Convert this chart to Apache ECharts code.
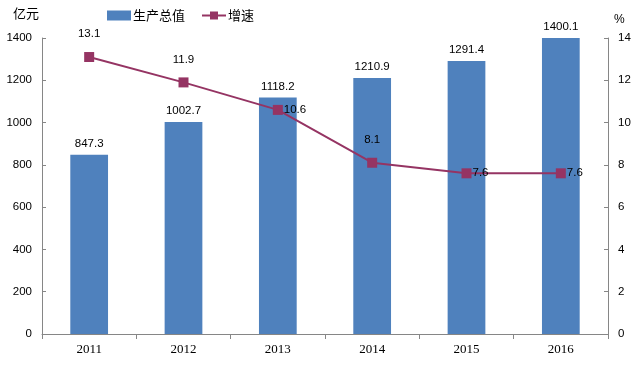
<!DOCTYPE html>
<html><head><meta charset="utf-8">
<script src="https://cdn.jsdelivr.net/npm/echarts@6/dist/echarts.min.js"></script>
<style>html,body{margin:0;padding:0;background:#fff}#c{width:644px;height:371px}</style>
</head><body><div id="c"></div>
<script>
var categories = ['2011','2012','2013','2014','2015','2016'];
var gdpValues = [847.3, 1002.7, 1118.2, 1210.9, 1291.4, 1400.1];
var growthValues = [13.1, 11.9, 10.6, 8.1, 7.6, 7.6];
var growthLabelPos = ['top','top','right','top','right','right'];
var leftTicks = {min:0, max:1400, interval:200};
var rightTicks = {min:0, max:14, interval:2};

var chart = echarts.init(document.getElementById('c'));
var serifFont = '"Liberation Serif", "Times New Roman", serif';
var sansFont = '"Liberation Sans", Arial, sans-serif';
var axisCol = '#868686';
chart.setOption({
  animation:false,
  backgroundColor:'#fff',
  grid:{left:42, right:36, top:38, bottom:37},
  legend:{
    top:4, left:102, itemGap:16, itemWidth:24, itemHeight:10,
    textStyle:{fontFamily:'"Noto Sans CJK SC", sans-serif', fontSize:13, color:'#000', padding:[0,0,0,-3]},
    data:[{name:'生产总值', icon:'rect'}, {name:'增速'}]
  },
  xAxis:{
    type:'category', data:categories,
    axisLine:{lineStyle:{color:axisCol}},
    axisTick:{show:true, length:5, lineStyle:{color:axisCol}},
    axisLabel:{color:'#000', fontFamily:serifFont, fontSize:13, margin:9}
  },
  yAxis:[{
    type:'value', min:leftTicks.min, max:leftTicks.max, interval:leftTicks.interval,
    name:'亿元', nameLocation:'end', nameGap:18,
    nameTextStyle:{fontFamily:'"Noto Sans CJK SC", sans-serif', fontSize:13, color:'#000', align:'right', padding:[0,3,0,0]},
    axisLine:{show:true, lineStyle:{color:axisCol}},
    axisTick:{show:true, inside:true, length:4, lineStyle:{color:axisCol}},
    splitLine:{show:false},
    axisLabel:{color:'#000', fontFamily:sansFont, fontSize:11.5, margin:10,
      formatter:function(v){return String(v);}}
  },{
    type:'value', min:rightTicks.min, max:rightTicks.max, interval:rightTicks.interval,
    name:'%', nameLocation:'end', nameGap:12,
    nameTextStyle:{fontFamily:sansFont, fontSize:12, color:'#000', align:'left', padding:[0,0,0,6]},
    axisLine:{show:true, lineStyle:{color:axisCol}},
    axisTick:{show:true, inside:true, length:4, lineStyle:{color:axisCol}},
    splitLine:{show:false},
    axisLabel:{color:'#000', fontFamily:sansFont, fontSize:11.5, margin:10}
  }],
  series:[{
    name:'生产总值', type:'bar', data:gdpValues, barWidth:'40%',
    itemStyle:{color:'#4F81BD'},
    label:{show:true, position:'top', distance:5, color:'#000', fontFamily:sansFont, fontSize:11.5}
  },{
    name:'增速', type:'line', yAxisIndex:1,
    data:growthValues.map(function(v,i){return {value:v, label:{position:growthLabelPos[i], distance: growthLabelPos[i]==='top'?12:1}};}),
    symbol:'rect', symbolSize:10,
    lineStyle:{color:'#953463', width:2},
    itemStyle:{color:'#953463'},
    label:{show:true, color:'#000', fontFamily:sansFont, fontSize:11.5}
  }]
});
</script></body></html>
